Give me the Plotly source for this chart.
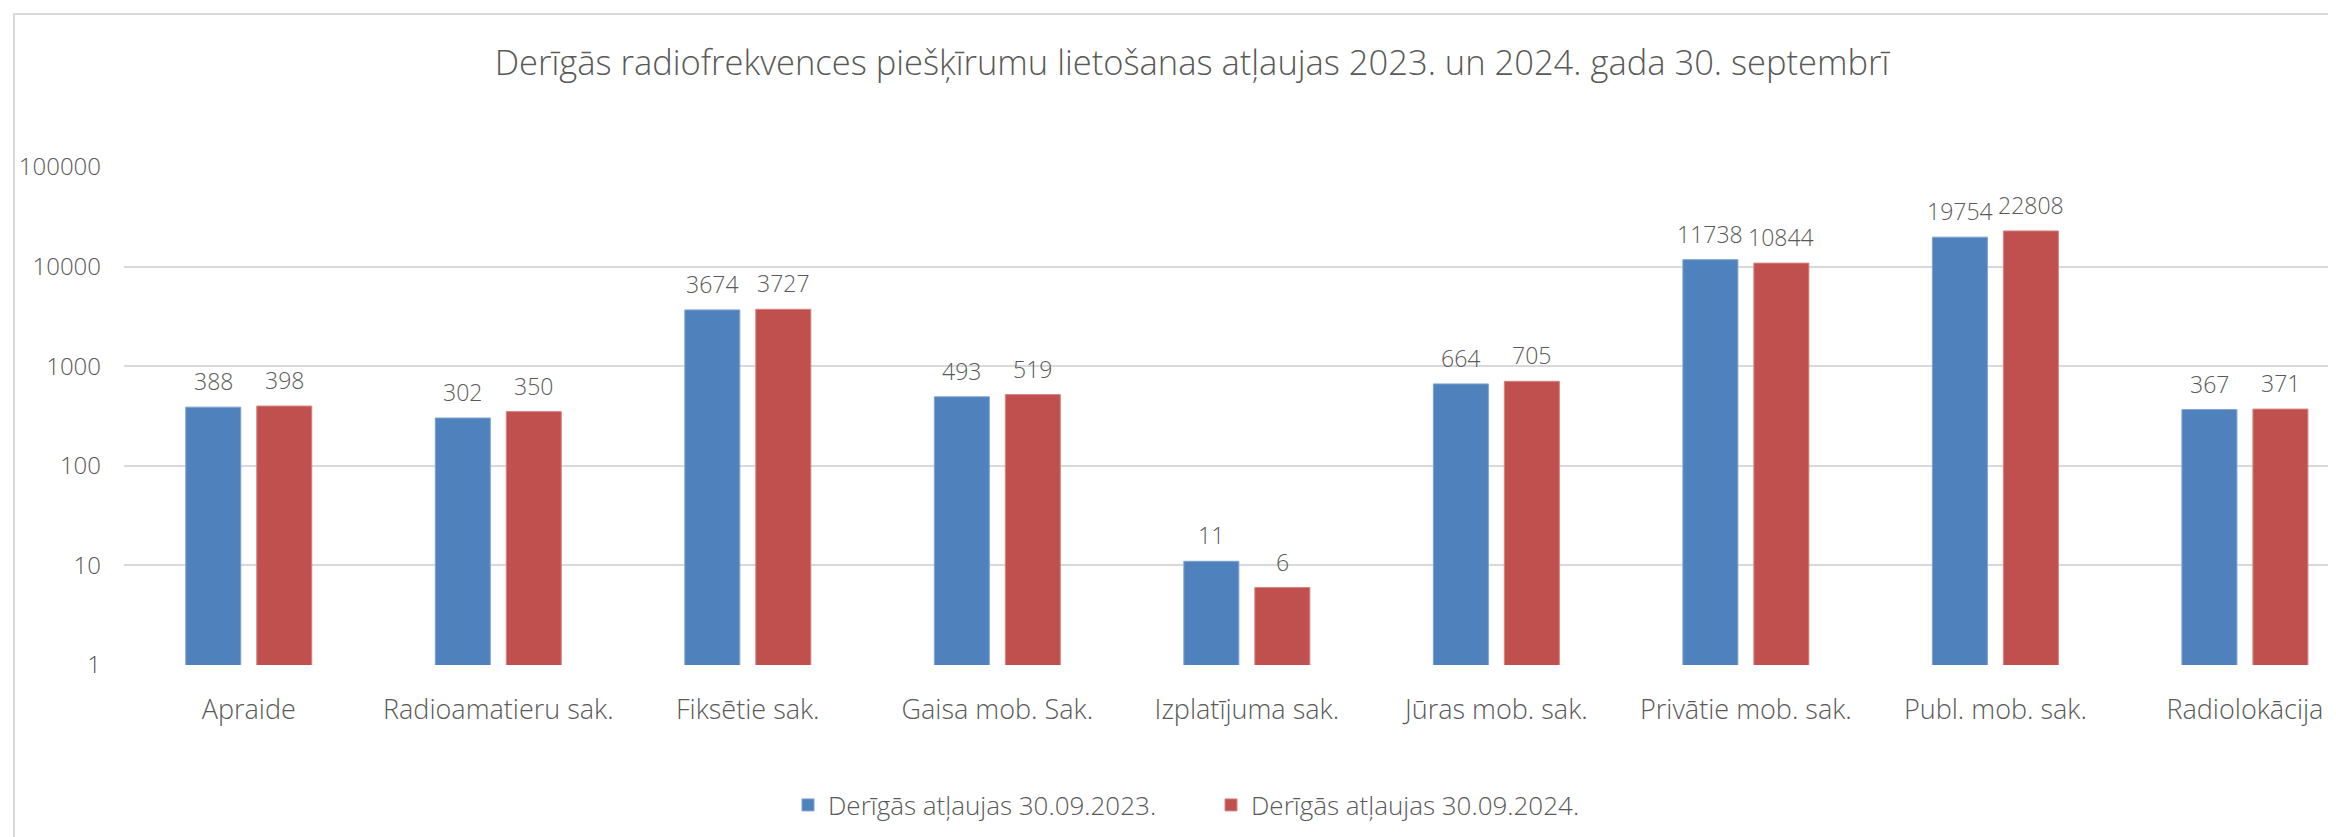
import numpy as np
import plotly.graph_objects as go

categories = ["Apraide", "Radioamatieru sak.", "Fiksētie sak.", "Gaisa mob. Sak.",
              "Izplatījuma sak.", "Jūras mob. sak.", "Privātie mob. sak.",
              "Publ. mob. sak.", "Radiolokācija"]
vals_2023 = [388, 302, 3674, 493, 11, 664, 11738, 19754, 367]
vals_2024 = [398, 350, 3727, 519, 6, 705, 10844, 22808, 371]
series_names = ["Derīgās atļaujas 30.09.2023.", "Derīgās atļaujas 30.09.2024."]
y_tick_vals = [1, 10, 100, 1000, 10000, 100000]
y_tick_text = ["1", "10", "100", "1000", "10000", "100000"]
title_text = "Derīgās radiofrekvences piešķīrumu lietošanas atļaujas 2023. un 2024. gada 30. septembrī"

OFF = 8  # page body margin offset
W, H = 2336 - OFF, 837 - OFF
ML, MR, MT = 124 - OFF, 0, 167 - OFF
MB = H - (665 - OFF)
FONT = "Open Sans"
TXT = "#595959"
BLUE = "#4F81BD"
RED = "#C0504D"
WT = 300

fig = go.Figure()
fig.add_trace(go.Bar(x=categories, y=vals_2023, name=series_names[0],
                     marker=dict(color=BLUE, line=dict(color="#7FA3D2", width=1))))
fig.add_trace(go.Bar(x=categories, y=vals_2024, name=series_names[1],
                     marker=dict(color=RED, line=dict(color="#D68482", width=1))))

# data labels above bars
slot_px = 71
for vals, sh in ((vals_2023, -slot_px / 2), (vals_2024, slot_px / 2)):
    for c, v in zip(categories, vals):
        fig.add_annotation(x=c, y=np.log10(v), text=str(v), showarrow=False,
                           xshift=sh, yshift=26, yanchor="middle",
                           font=dict(family=FONT, size=23, color=TXT, weight=WT))

pw = W - ML - MR
ph = H - MT - MB
# outer chart frame
fig.add_shape(type="rect", xref="paper", yref="paper",
              x0=(14 - OFF - ML) / pw, x1=(W + 20 - ML) / pw,
              y0=-(MB + 20) / ph, y1=(H - MB - (14 - OFF)) / ph,
              line=dict(color="#D9D9D9", width=2), layer="below")

fig.update_layout(
    width=W, height=H,
    margin=dict(l=ML, r=MR, t=MT, b=MB),
    paper_bgcolor="white", plot_bgcolor="white",
    barmode="group", bargap=0.431, bargroupgap=0.225,
    title=dict(text=title_text, x=(1192 - OFF) / W, xanchor="center",
               y=1 - (63 - OFF) / H, yanchor="middle",
               font=dict(family=FONT, size=34.5, color=TXT, weight=WT)),
    font=dict(family=FONT, color=TXT),
    legend=dict(orientation="h", x=(788 - OFF - ML) / pw, xanchor="left",
                y=-(805 - 665) / ph, yanchor="middle",
                font=dict(family=FONT, size=26, color=TXT, weight=WT),
                itemwidth=30, entrywidth=378),
    showlegend=True,
)
fig.update_xaxes(range=[-0.5, 8.365], showgrid=False, showline=False, ticks="",
                 tickfont=dict(family=FONT, size=27, color=TXT, weight=WT), ticklabelstandoff=26)
fig.update_yaxes(type="log", range=[0, 5], tickvals=y_tick_vals, ticktext=y_tick_text,
                 showgrid=True, gridcolor="#D9D9D9", gridwidth=2, zeroline=False,
                 showline=False, ticks="", ticklabelstandoff=22,
                 tickfont=dict(family=FONT, size=24, color=TXT, weight=WT))

fig.write_html("out.html")
